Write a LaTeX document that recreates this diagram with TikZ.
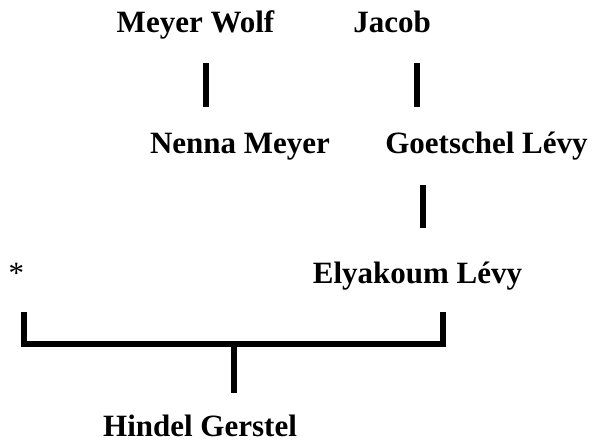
\documentclass[tikz,border=0pt]{standalone}
\usepackage{fontspec}
\setmainfont{Liberation Serif}
\begin{document}
\begin{tikzpicture}[x=1pt,y=-1pt,
  person/.style={font=\fontsize{31}{36}\selectfont\bfseries, anchor=base, inner sep=0pt},
  mark star/.style={font=\fontsize{31}{36}\selectfont, anchor=base, inner sep=0pt},
  bar/.style={line width=6pt, line cap=butt, line join=miter}]
\useasboundingbox (0,0) rectangle (600,444);
% people
\node[person] (mw) at (195.5,33) {Meyer Wolf};
\node[person] (ja) at (392,33) {Jacob};
\node[person] (nm) at (240,153) {Nenna Meyer};
\node[person] (gl) at (486.5,153) {Goetschel Lévy};
\node[mark star] (st) at (16.5,283) {*};
\node[person] (el) at (417.5,283) {Elyakoum Lévy};
\node[person] (hg) at (200,436) {Hindel Gerstel};
% bar end points
\coordinate (a1) at (206,63);   \coordinate (a2) at (206,107);
\coordinate (b1) at (417,63);   \coordinate (b2) at (417,107);
\coordinate (c1) at (423,185);  \coordinate (c2) at (423,228);
\coordinate (l1) at (24,312);   \coordinate (l2) at (24,344);
\coordinate (r1) at (442.5,312);\coordinate (r2) at (442.5,344);
\coordinate (m1) at (233.5,344);\coordinate (m2) at (233.5,393);
% connectors
\draw[bar] (a1) -- (a2);
\draw[bar] (b1) -- (b2);
\draw[bar] (c1) -- (c2);
\draw[bar] (l1) -- (l2) -- (r2) -- (r1);
\draw[bar] (m1) -- (m2);
\end{tikzpicture}
\end{document}
